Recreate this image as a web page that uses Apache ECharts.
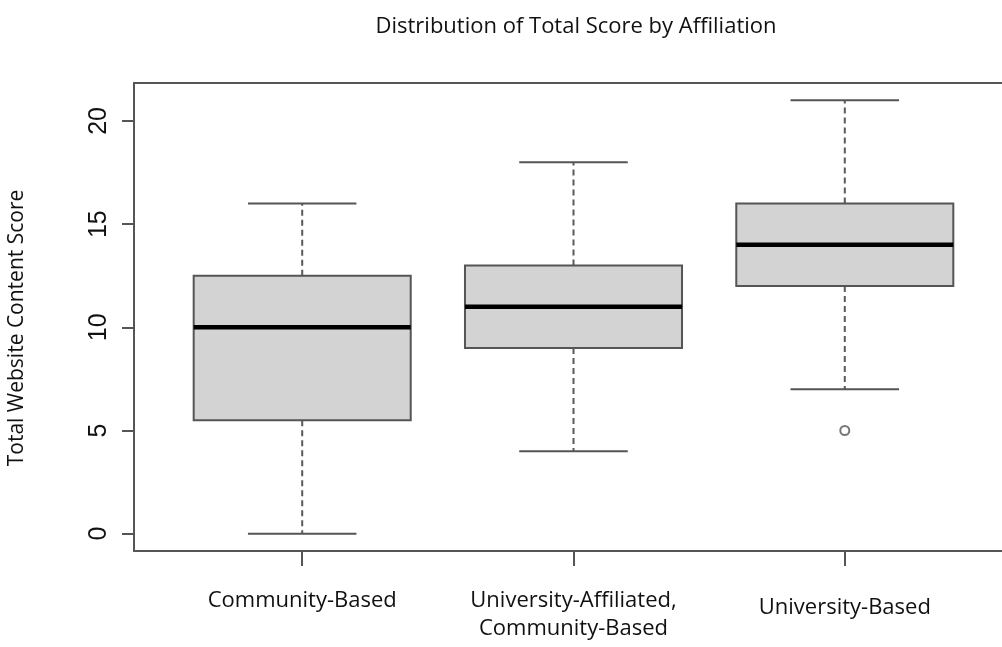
<!DOCTYPE html>
<html>
<head>
<meta charset="utf-8">
<title>Distribution of Total Score by Affiliation</title>
<script src="https://cdn.jsdelivr.net/npm/echarts@6/dist/echarts.min.js"></script>
<style>
  html, body { margin: 0; padding: 0; background: #ffffff; }
  #chart { width: 1002px; height: 647px; }
</style>
</head>
<body>
<div id="chart"></div>
<script>
// Groups (x positions 1..3) and their five-number summaries
const categories = ['Community-Based', 'University-Affiliated,\nCommunity-Based', 'University-Based'];
const whiskerLow  = [0, 4, 7];
const quartile1   = [5.5, 9, 12];
const medians     = [10, 11, 14];
const quartile3   = [12.5, 13, 16];
const whiskerHigh = [16, 18, 21];
// Points beyond the whiskers: [group position, value]
const outliers = [[3, 5]];
const yTicks = [0, 5, 10, 15, 20];

const boxData = categories.map((c, i) => [i + 1, whiskerLow[i], quartile1[i], medians[i], quartile3[i], whiskerHigh[i]]);

const BOX_HALF = 0.4;     // half box width in axis units
const STAPLE_HALF = 0.2;  // half whisker-cap width in axis units
const EDGE = '#555555';
const TEXT_FONT = 'Open Sans';
const X_MIN = 0.38, X_MAX = 3.62;

function renderBox(params, api) {
  const x = api.value(0);
  const lo = api.value(1), q1 = api.value(2), md = api.value(3), q3 = api.value(4), hi = api.value(5);
  const tl = api.coord([x - BOX_HALF, q3]);
  const br = api.coord([x + BOX_HALF, q1]);
  const c = (v) => api.coord([x, v]);
  const left = (v, h) => api.coord([x - h, v]);
  const right = (v, h) => api.coord([x + h, v]);
  const dash = { stroke: '#5a5a5a', lineWidth: 2, lineDash: [6, 4] };
  const solid = { stroke: EDGE, lineWidth: 2 };
  return {
    type: 'group',
    children: [
      { type: 'line', shape: { x1: c(q3)[0], y1: c(q3)[1], x2: c(hi)[0], y2: c(hi)[1] }, style: dash },
      { type: 'line', shape: { x1: c(q1)[0], y1: c(q1)[1], x2: c(lo)[0], y2: c(lo)[1] }, style: dash },
      { type: 'line', shape: { x1: left(hi, STAPLE_HALF)[0], y1: c(hi)[1], x2: right(hi, STAPLE_HALF)[0], y2: c(hi)[1] }, style: solid },
      { type: 'line', shape: { x1: left(lo, STAPLE_HALF)[0], y1: c(lo)[1], x2: right(lo, STAPLE_HALF)[0], y2: c(lo)[1] }, style: solid },
      { type: 'rect', shape: { x: tl[0], y: tl[1], width: br[0] - tl[0], height: br[1] - tl[1] },
        style: { fill: '#d3d3d3', stroke: EDGE, lineWidth: 2 } },
      { type: 'line', shape: { x1: left(md, BOX_HALF)[0], y1: c(md)[1], x2: right(md, BOX_HALF)[0], y2: c(md)[1] },
        style: { stroke: '#000000', lineWidth: 4.5 } }
    ]
  };
}

const chart = echarts.init(document.getElementById('chart'), null, { renderer: 'canvas' });
chart.setOption({
  backgroundColor: '#ffffff',
  animation: false,
  title: {
    text: 'Distribution of Total Score by Affiliation',
    left: 571,
    textAlign: 'center',
    top: 11,
    textStyle: { fontFamily: TEXT_FONT, fontWeight: 'normal', fontSize: 22, color: '#111111' }
  },
  grid: {
    left: 134, top: 83, right: -11, bottom: 96,
    containLabel: false,
    outerBoundsMode: 'none',
    show: false
  },
  xAxis: [
    {
      type: 'value',
      min: X_MIN, max: X_MAX,
      splitLine: { show: false },
      axisLine: { show: true, onZero: false, lineStyle: { color: EDGE, width: 2 } },
      axisTick: { show: true, customValues: [1, 2, 3], length: 15, lineStyle: { color: EDGE, width: 2 } },
      axisLabel: {
        customValues: [1, 2, 3],
        margin: 36,
        formatter: (v) => {
          const i = Math.round(v) - 1;
          return i === 2 ? '{low|' + categories[i] + '}' : (categories[i] || '');
        },
        rich: { low: { fontFamily: TEXT_FONT, fontSize: 22, color: '#111111', padding: [13, 0, 0, 0] } },
        fontFamily: TEXT_FONT, fontSize: 22, color: '#111111', lineHeight: 28
      }
    },
    {
      // top edge of the plot frame
      type: 'value',
      position: 'top',
      min: X_MIN, max: X_MAX,
      splitLine: { show: false },
      axisLine: { show: true, onZero: false, lineStyle: { color: EDGE, width: 2 } },
      axisTick: { show: false },
      axisLabel: { show: false }
    }
  ],
  yAxis: {
    type: 'value',
    min: -0.84, max: 21.84,
    name: 'Total Website Content Score',
    nameLocation: 'middle',
    nameRotate: 90,
    nameGap: 106,
    nameTextStyle: { fontFamily: TEXT_FONT, fontSize: 21, color: '#111111', padding: [0, 22, 0, 0] },
    splitLine: { show: false },
    axisLine: { show: true, onZero: false, lineStyle: { color: EDGE, width: 2 } },
    axisTick: { show: true, customValues: yTicks, length: 12, lineStyle: { color: EDGE, width: 2 } },
    axisLabel: {
      customValues: yTicks,
      rotate: 90,
      margin: 22,
      fontFamily: 'Liberation Sans', fontSize: 25, color: '#111111'
    }
  },
  series: [
    {
      type: 'custom',
      renderItem: renderBox,
      encode: { x: 0, y: [1, 2, 3, 4, 5] },
      data: boxData,
      z: 2
    },
    {
      type: 'scatter',
      data: outliers,
      symbol: 'circle',
      symbolSize: 9,
      itemStyle: { color: '#ffffff', borderColor: EDGE, borderWidth: 2 },
      z: 3
    }
  ]
});
</script>
</body>
</html>
